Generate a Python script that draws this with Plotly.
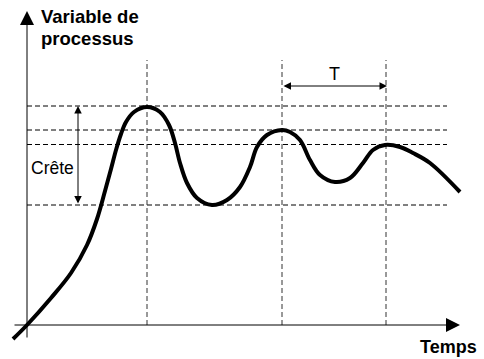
import plotly.graph_objects as go

# Process variable response over time (origin where the axes cross)
temps = [-14, 0, 24, 44, 60, 70, 78, 84, 89, 94, 99, 107, 120, 133, 142, 148, 153, 160,
         170, 185, 200, 213, 223, 230, 240, 255, 263, 273, 283, 293, 308, 323, 336,
         346, 358, 373, 386, 403, 433]
valeur = [-14, 0, 27, 52, 80, 106, 134, 156, 175, 191, 203, 213, 218, 213, 200, 182, 162, 142,
          127, 120, 125, 138, 158, 178, 190, 195, 193, 185, 165, 150, 143, 147, 162,
          175, 180, 178, 172, 162, 133]

# Times of the successive peaks and the reference levels
peak_times = [120, 255, 359]
levels = [219, 195, 180.5, 120]
guide_top = 265
guide_right = 420

# Period and crest indicators
period_start, period_end, period_level = 255, 360, 239
crest_x, crest_low, crest_high = 51, 120, 219

# Axis extents
x_axis = (-14, 433)
y_axis = (-14, 314)

FONT = "Liberation Sans, Arial, sans-serif"

fig = go.Figure()

fig.add_trace(go.Scatter(
    x=temps, y=valeur, mode="lines",
    line=dict(color="black", width=4, shape="spline", smoothing=1.0),
    hoverinfo="skip", showlegend=False,
))

shapes = []
for lv in levels:
    shapes.append(dict(type="line", xref="x", yref="y", x0=0, x1=guide_right, y0=lv, y1=lv,
                       line=dict(color="black", width=1, dash="5px,3px"), layer="below"))
for pt in peak_times:
    shapes.append(dict(type="line", xref="x", yref="y", x0=pt, x1=pt, y0=0, y1=guide_top,
                       line=dict(color="#333", width=1, dash="5px,3px"), layer="below"))

annotations = [
    # axes with filled arrowheads
    dict(x=x_axis[1], y=0, ax=x_axis[0], ay=0, xref="x", yref="y", axref="x", ayref="y",
         text="", showarrow=True, arrowhead=2, arrowsize=2.8, arrowwidth=1, arrowcolor="black"),
    dict(x=0, y=y_axis[1], ax=0, ay=y_axis[0], xref="x", yref="y", axref="x", ayref="y",
         text="", showarrow=True, arrowhead=2, arrowsize=2.8, arrowwidth=1, arrowcolor="black"),
    # period T
    dict(x=period_end, y=period_level, ax=period_start, ay=period_level,
         xref="x", yref="y", axref="x", ayref="y", text="", showarrow=True,
         arrowhead=2, arrowsize=1.5, arrowwidth=1, arrowside="end+start", arrowcolor="black"),
    # crest amplitude
    dict(x=crest_x, y=crest_high, ax=crest_x, ay=crest_low,
         xref="x", yref="y", axref="x", ayref="y", text="", showarrow=True,
         arrowhead=2, arrowsize=1.5, arrowwidth=1, arrowside="end+start", arrowcolor="black"),
    # labels
    dict(x=(period_start + period_end) / 2, y=period_level + 12, xref="x", yref="y",
         text="T", showarrow=False, font=dict(family=FONT, size=18, color="black")),
    dict(x=crest_x - 2, y=157, xref="x", yref="y", xanchor="right",
         text="Crête", showarrow=False, font=dict(family=FONT, size=17.5, color="black")),
    dict(x=12, y=321, xref="x", yref="y", xanchor="left", yanchor="top",
         text="<b>Variable de</b>", showarrow=False,
         font=dict(family=FONT, size=18.5, color="black")),
    dict(x=12, y=299, xref="x", yref="y", xanchor="left", yanchor="top",
         text="<b>processus</b>", showarrow=False,
         font=dict(family=FONT, size=18.5, color="black")),
    dict(x=452, y=-34, xref="x", yref="y", xanchor="right", yanchor="bottom",
         text="<b>Temps</b>", showarrow=False, font=dict(family=FONT, size=18, color="black")),
]

fig.update_layout(
    width=484, height=359,
    margin=dict(l=0, r=0, t=0, b=0),
    paper_bgcolor="white", plot_bgcolor="white",
    xaxis=dict(range=[-27, 457], visible=False, fixedrange=True),
    yaxis=dict(range=[-34, 325], visible=False, fixedrange=True),
    shapes=shapes, annotations=annotations,
)

fig.write_html("out.html")
